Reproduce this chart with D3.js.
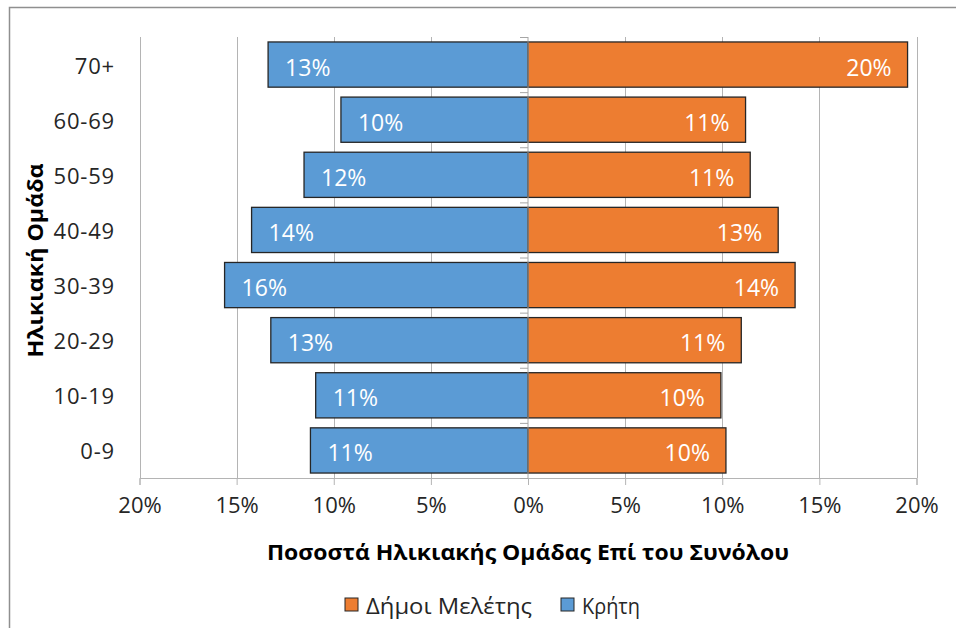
<!DOCTYPE html>
<html>
<head>
<meta charset="utf-8">
<script src="https://cdn.jsdelivr.net/npm/d3@7"></script>
<style>
  body { margin: 0; background: #fff; }
  text { font-family: "Open Sans", "Noto Sans", sans-serif; }
</style>
</head>
<body>
<svg id="chart" width="956" height="628"></svg>
<script>
// Age groups, top to bottom
const ageGroups = ["70+", "60-69", "50-59", "40-49", "30-39", "20-29", "10-19", "0-9"];
// Share of each age group in the total population (%)
const creteShare = [13.38, 9.63, 11.53, 14.23, 15.62, 13.24, 10.93, 11.20];
const studyShare = [19.54, 11.20, 11.44, 12.88, 13.75, 10.98, 9.93, 10.19];
// Axis ticks (signed: negatives are drawn to the left for Κρήτη)
const xTicks = [-20, -15, -10, -5, 0, 5, 10, 15, 20];
const seriesNames = ["Δήμοι Μελέτης", "Κρήτη"];
const seriesColors = ["#ED7D31", "#5B9BD5"];

const svg = d3.select("#chart");

// outer chart frame
svg.append("rect")
  .attr("x", 9.5).attr("y", 7.5)
  .attr("width", 980).attr("height", 660)
  .attr("fill", "none").attr("stroke", "#8f8f8f").attr("stroke-width", 1.5);

const x = d3.scaleLinear().domain([-20, 20]).range([139.5, 916.5]);
const y = d3.scaleBand().domain(ageGroups).range([37, 478])
  .paddingInner(0.18).paddingOuter(0.09);

const plotTop = 37, plotBottom = 478;
const pct = v => d3.format(".0f")(Math.abs(v)) + "%";

// vertical gridlines
svg.append("g").selectAll("line")
  .data(xTicks.filter(t => t !== 0))
  .join("line")
  .attr("x1", d => Math.round(x(d)) + 0.5).attr("x2", d => Math.round(x(d)) + 0.5)
  .attr("y1", plotTop).attr("y2", plotBottom)
  .attr("stroke", "#b4b4b4").attr("stroke-width", 1);

// horizontal axis with ticks below
const xAxis = d3.axisBottom(x).tickValues(xTicks).tickSize(7).tickFormat(pct);
const gx = svg.append("g").attr("transform", `translate(0,${plotBottom})`).call(xAxis);
gx.select(".domain").attr("stroke", "#b4b4b4");
gx.selectAll(".tick line").attr("stroke", "#b4b4b4");
gx.selectAll(".tick text")
  .attr("y", 19).attr("dy", "0.71em")
  .attr("font-size", 22).attr("fill", "#262626")
  .style("font-family", "'Open Sans', sans-serif");

// bars
const rows = ageGroups.map((g, i) => ({ group: g, crete: creteShare[i], study: studyShare[i] }));

svg.append("g").selectAll("rect")
  .data(rows).join("rect")
  .attr("x", d => x(-d.crete)).attr("width", d => x(0) - x(-d.crete))
  .attr("y", d => y(d.group)).attr("height", y.bandwidth())
  .attr("fill", seriesColors[1]).attr("stroke", "#262626").attr("stroke-width", 1.3);

svg.append("g").selectAll("rect")
  .data(rows).join("rect")
  .attr("x", x(0)).attr("width", d => x(d.study) - x(0))
  .attr("y", d => y(d.group)).attr("height", y.bandwidth())
  .attr("fill", seriesColors[0]).attr("stroke", "#262626").attr("stroke-width", 1.3);

// central axis with category ticks at band boundaries
const gy = svg.append("g");
gy.append("line")
  .attr("x1", x(0)).attr("x2", x(0)).attr("y1", plotTop).attr("y2", plotBottom)
  .attr("stroke", "#a6a6a6");
gy.selectAll("line.tk")
  .data(d3.range(ageGroups.length + 1))
  .join("line").attr("class", "tk")
  .attr("x1", x(0) - 8).attr("x2", x(0))
  .attr("y1", i => plotTop + i * y.step() + 0.5)
  .attr("y2", i => plotTop + i * y.step() + 0.5)
  .attr("stroke", "#a6a6a6");

// value labels inside the bars
svg.append("g").selectAll("text")
  .data(rows).join("text")
  .attr("x", d => x(-d.crete) + 17)
  .attr("y", d => y(d.group) + y.bandwidth() / 2 + 2)
  .attr("dominant-baseline", "central")
  .attr("font-size", 23).attr("fill", "#fff")
  .text(d => pct(d.crete));

svg.append("g").selectAll("text")
  .data(rows).join("text")
  .attr("x", d => x(d.study) - 16)
  .attr("y", d => y(d.group) + y.bandwidth() / 2 + 2)
  .attr("text-anchor", "end")
  .attr("dominant-baseline", "central")
  .attr("font-size", 23).attr("fill", "#fff")
  .text(d => pct(d.study));

// category labels
svg.append("g").selectAll("text")
  .data(ageGroups).join("text")
  .attr("x", 115)
  .attr("y", d => y(d) + y.bandwidth() / 2)
  .attr("text-anchor", "end")
  .attr("dominant-baseline", "central")
  .attr("font-size", 22).attr("fill", "#262626")
  .attr("letter-spacing", 0.8)
  .text(d => d);

// axis titles
svg.append("text")
  .attr("transform", `translate(34,${(plotTop + plotBottom) / 2 + 3}) rotate(-90)`)
  .attr("text-anchor", "middle").attr("dominant-baseline", "central")
  .attr("font-size", 22).attr("font-weight", "bold").attr("fill", "#000")
  .attr("textLength", 194).attr("lengthAdjust", "spacingAndGlyphs")
  .text("Ηλικιακή Ομάδα");

svg.append("text")
  .attr("x", x(0)).attr("y", 552)
  .attr("text-anchor", "middle").attr("dominant-baseline", "central")
  .attr("font-size", 21).attr("font-weight", "bold").attr("fill", "#000")
  .attr("textLength", 522).attr("lengthAdjust", "spacingAndGlyphs")
  .text("Ποσοστά Ηλικιακής Ομάδας Επί του Συνόλου");

// legend
const legend = svg.append("g");
const legendItems = [
  { name: seriesNames[0], color: seriesColors[0], x: 345, w: 166 },
  { name: seriesNames[1], color: seriesColors[1], x: 561, w: 58 }
];
const li = legend.selectAll("g").data(legendItems).join("g")
  .attr("transform", d => `translate(${d.x},598)`);
li.append("rect")
  .attr("width", 13).attr("height", 13)
  .attr("fill", d => d.color).attr("stroke", "#262626").attr("stroke-width", 1);
li.append("text")
  .attr("x", 21).attr("y", 7)
  .attr("dominant-baseline", "central")
  .attr("font-size", 22).attr("fill", "#262626")
  .attr("textLength", d => d.w).attr("lengthAdjust", "spacingAndGlyphs")
  .text(d => d.name);
</script>
</body>
</html>
